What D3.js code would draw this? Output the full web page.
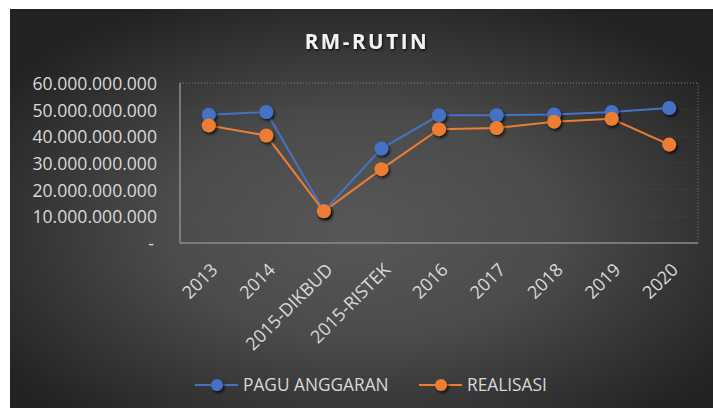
<!DOCTYPE html>
<html><head><meta charset="utf-8">
<script src="https://cdn.jsdelivr.net/npm/d3@7"></script>
<style>
html,body{margin:0;padding:0;background:#fff;}
svg{display:block;}
</style></head>
<body>
<svg id="chart" width="713" height="408"></svg>
<script>
const categories = ["2013","2014","2015-DIKBUD","2015-RISTEK","2016","2017","2018","2019","2020"];
const paguAnggaran = [48.1e9, 49.1e9, 12.0e9, 35.4e9, 47.9e9, 47.9e9, 48.2e9, 49.1e9, 50.6e9];
const realisasi = [44.1e9, 40.3e9, 11.9e9, 27.7e9, 42.7e9, 43.1e9, 45.5e9, 46.6e9, 36.9e9];
const yTicks = [0, 10e9, 20e9, 30e9, 40e9, 50e9, 60e9];
const seriesNames = ["PAGU ANGGARAN", "REALISASI"];
const colors = ["#4472C4", "#ED7D31"];

const svg = d3.select("#chart");
const defs = svg.append("defs");
const rg = defs.append("radialGradient").attr("id","bg")
  .attr("cx","50%").attr("cy","55%").attr("r","62%")
  .attr("gradientUnits","objectBoundingBox");
rg.append("stop").attr("offset","0%").attr("stop-color","#575757");
rg.append("stop").attr("offset","45%").attr("stop-color","#4b4b4b");
rg.append("stop").attr("offset","100%").attr("stop-color","#232323");

const sh = defs.append("filter").attr("id","shadow").attr("x","-50%").attr("y","-50%").attr("width","200%").attr("height","200%");
sh.append("feDropShadow").attr("dx",1.5).attr("dy",2).attr("stdDeviation",1.6).attr("flood-color","#000").attr("flood-opacity",0.75);
const tsh = defs.append("filter").attr("id","tshadow").attr("x","-10%").attr("y","-30%").attr("width","120%").attr("height","160%");
tsh.append("feDropShadow").attr("dx",1).attr("dy",1.5).attr("stdDeviation",1).attr("flood-color","#000").attr("flood-opacity",0.7);

svg.append("rect").attr("x",10).attr("y",9).attr("width",703).attr("height",399).attr("fill","url(#bg)");

const pLeft = 180, pRight = 698, pTop = 83, pBottom = 243;
const x = d3.scaleBand().domain(categories).range([pLeft, pRight]);
const y = d3.scaleLinear().domain([0, 60e9]).range([pBottom, pTop]);

// title
svg.append("text").attr("x", 367).attr("y", 49).attr("text-anchor","middle")
  .attr("font-family","Open Sans").attr("font-weight","bold").attr("font-size",20.5)
  .attr("letter-spacing",2.6).attr("fill","#f2f2f2").attr("filter","url(#tshadow)").text("RM-RUTIN");

// gridlines (faint, dotted)
svg.append("g").selectAll("line").data(yTicks.filter(d=>d>0)).join("line")
  .attr("x1",pLeft).attr("x2",pRight).attr("y1",d=>y(d)).attr("y2",d=>y(d))
  .attr("stroke", d=> d===60e9 ? "#8a8a8a" : "#6a6a6a")
  .attr("stroke-width",1).attr("stroke-dasharray","1,2")
  .attr("stroke-opacity", d=> d===60e9 ? 0.9 : 0.35);
svg.append("line").attr("x1",pRight).attr("x2",pRight).attr("y1",pTop).attr("y2",pBottom)
  .attr("stroke","#8a8a8a").attr("stroke-dasharray","1,2").attr("stroke-opacity",0.8);

// y axis labels
const fmt = d => d===0 ? "-" : d3.format(",")(d).replace(/,/g,".");
const yAxis = d3.axisLeft(y).tickValues(yTicks).tickFormat(fmt).tickSize(0).tickPadding(0);
const gy = svg.append("g").attr("transform",`translate(${157},1)`).call(yAxis);
gy.select(".domain").remove();
gy.selectAll("text").attr("font-family","Open Sans").attr("font-size",17.6).attr("fill","#d9d9d9");
gy.selectAll(".tick").filter(d=>d===0).select("text").attr("dx",-3);

// axis lines
svg.append("line").attr("x1",pLeft).attr("x2",pLeft).attr("y1",pTop).attr("y2",pBottom)
  .attr("stroke","#8c8c8c").attr("stroke-width",1.5);
svg.append("line").attr("x1",pLeft).attr("x2",pRight).attr("y1",pBottom).attr("y2",pBottom)
  .attr("stroke","#8c8c8c").attr("stroke-width",1.5);

// x axis labels
const xAxis = d3.axisBottom(x).tickSize(0).tickPadding(0);
const gx = svg.append("g").attr("transform",`translate(0,${pBottom})`).call(xAxis);
gx.select(".domain").remove();
gx.selectAll("text").attr("font-family","Open Sans").attr("font-size",18).attr("fill","#d9d9d9")
  .attr("text-anchor","end").attr("dy",0)
  .attr("transform","translate(10,28) rotate(-45)");

// series
const series = [paguAnggaran, realisasi];
const line = d3.line().x((d,i)=>x(categories[i])+x.bandwidth()/2).y(d=>y(d));
series.forEach((vals, si) => {
  svg.append("path").datum(vals).attr("d", line).attr("fill","none")
    .attr("stroke", colors[si]).attr("stroke-width",2);
});
series.forEach((vals, si) => {
  svg.append("g").selectAll("circle").data(vals).join("circle")
    .attr("cx",(d,i)=>x(categories[i])+x.bandwidth()/2).attr("cy",d=>y(d)).attr("r",7)
    .attr("fill",colors[si]).attr("filter","url(#shadow)");
});

// legend
const legendItems = [{x:195, name:seriesNames[0], c:colors[0]},{x:419, name:seriesNames[1], c:colors[1]}];
const lg = svg.append("g").selectAll("g").data(legendItems).join("g");
lg.append("line").attr("x1",d=>d.x).attr("x2",d=>d.x+43).attr("y1",385).attr("y2",385)
  .attr("stroke",d=>d.c).attr("stroke-width",2);
lg.append("circle").attr("cx",d=>d.x+22).attr("cy",385).attr("r",6).attr("fill",d=>d.c).attr("filter","url(#shadow)");
lg.append("text").attr("x",d=>d.x+48).attr("y",391).attr("font-family","Open Sans").attr("font-size",17.3)
  .attr("fill","#d9d9d9").text(d=>d.name);
</script>
</body></html>
